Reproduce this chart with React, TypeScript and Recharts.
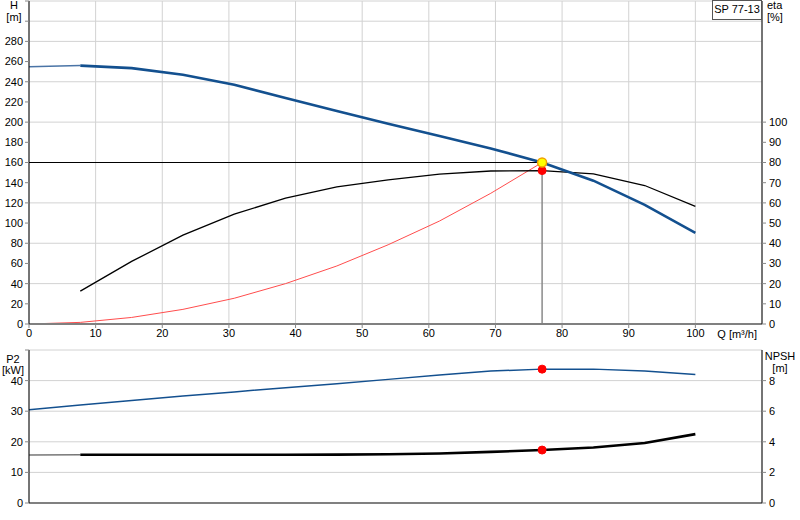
import React from 'react';
import { LineChart, Line, XAxis, YAxis, CartesianGrid, ReferenceDot, Label } from 'recharts';

// Flow points [m³/h]
const flowQ = [0, 7.7, 15.4, 23.1, 30.8, 38.5, 46.2, 53.9, 61.6, 69.3, 77, 84.7, 92.4, 100];
// Head H [m]
const headH = [254.8, 256, 253.5, 247, 237, 223.8, 211, 198.3, 186.2, 173.9, 160, 142, 118, 90.2];
// Efficiency eta [%] (starts at 7.7)
const effQ = [7.7, 15.4, 23.1, 30.8, 38.5, 46.2, 53.9, 61.6, 69.3, 77, 84.7, 92.4, 100];
const effEta = [16.3, 31, 44, 54.4, 62.3, 67.9, 71.4, 74.2, 75.8, 76, 74.4, 68.6, 58.3];
// System curve [m]
const sysQ = [0, 7.7, 15.4, 23.1, 30.8, 38.5, 46.2, 53.9, 61.6, 69.3, 77];
const sysH = [0, 1.6, 6.5, 14.5, 25.5, 40, 57.5, 78.5, 102, 129.5, 160];
// Power P2 [kW]
const powerP2 = [30.5, 32.0, 33.5, 35.0, 36.3, 37.7, 39.0, 40.4, 41.8, 43.1, 43.75, 43.75, 43.1, 42.0];
// NPSH [m]
const npshM = [3.14, 3.15, 3.15, 3.15, 3.15, 3.15, 3.16, 3.19, 3.24, 3.34, 3.46, 3.63, 3.92, 4.5];

// Duty point
const dutyQ = 77;
const dutyH = 160;
const dutyEta = 76;
const dutyP2 = 43.75;
const dutyNPSH = 3.46;

// Ticks
const qTicks = [0, 10, 20, 30, 40, 50, 60, 70, 80, 90, 100];
const hTicks = [0, 20, 40, 60, 80, 100, 120, 140, 160, 180, 200, 220, 240, 260, 280, 300, 320];
const etaTicks = [0, 10, 20, 30, 40, 50, 60, 70, 80, 90, 100];
const p2Ticks = [0, 10, 20, 30, 40, 50];
const npshTicks = [0, 2, 4, 6, 8];

const headData = flowQ.map((q, i) => ({ q, h: headH[i] }));
const headMain = headData.slice(1);
const headExt = headData.slice(0, 2);
const effData = effQ.map((q, i) => ({ q, eta: effEta[i] }));
const sysData = sysQ.map((q, i) => ({ q, h: sysH[i] }));
const dutyHLine = [{ q: 0, h: dutyH }, { q: dutyQ, h: dutyH }];
const dutyVLine = [{ q: dutyQ, h: dutyH }, { q: dutyQ, h: 0 }];
const p2Data = flowQ.map((q, i) => ({ q, p2: powerP2[i] }));
const npshData = flowQ.map((q, i) => ({ q, npsh: npshM[i] }));
const npshMain = npshData.slice(1);
const npshExt = npshData.slice(0, 2);

const FONT = '"Liberation Sans", Arial, sans-serif';
const GRID = '#d2d2d2';
const BLUE = '#13508f';
const tickStyle = { fontSize: 11, fill: '#000', fontFamily: FONT };

export default function App() {
  return (
    <div style={{ position: 'absolute', left: 0, top: 0, width: 800, height: 520, background: '#fff', fontFamily: FONT }}>
      <div style={{ position: 'absolute', left: 0, top: 0 }}>
        <LineChart width={800} height={345} margin={{ top: 1, right: 0, bottom: 0, left: 0 }}>
          <CartesianGrid yAxisId="h" stroke={GRID} strokeWidth={1} />
          <XAxis
            type="number"
            dataKey="q"
            domain={[0, 110]}
            ticks={qTicks}
            allowDataOverflow
            height={21}
            tick={tickStyle}
            tickSize={4}
            tickMargin={1}
            tickLine={{ stroke: '#888' }}
            axisLine={{ stroke: '#808080', strokeWidth: 2 }}
          >
            <Label
              content={() => (
                <text x={757} y={338} textAnchor="end" fontSize={11} fontFamily={FONT} fill="#000">
                  Q [m³/h]
                </text>
              )}
            />
          </XAxis>
          <YAxis
            yAxisId="h"
            orientation="left"
            domain={[0, 320]}
            ticks={hTicks}
            width={29}
            tick={tickStyle}
            tickFormatter={(v: number) => (v > 280 ? '' : String(v))}
            tickSize={4}
            tickMargin={2}
            tickLine={{ stroke: '#888' }}
            axisLine={{ stroke: '#000' }}
            allowDataOverflow
          >
            <Label
              content={() => (
                <g fontFamily={FONT} fontSize={11} fill="#000">
                  <text x={14} y={9} textAnchor="middle">H</text>
                  <text x={14} y={21} textAnchor="middle">[m]</text>
                </g>
              )}
            />
          </YAxis>
          <YAxis
            yAxisId="eta"
            orientation="right"
            domain={[0, 160]}
            ticks={etaTicks}
            width={38}
            tick={tickStyle}
            tickSize={4}
            tickMargin={3}
            tickLine={{ stroke: '#888' }}
            axisLine={{ stroke: '#000' }}
            allowDataOverflow
          >
            <Label
              content={() => (
                <g fontFamily={FONT} fontSize={11} fill="#000">
                  <text x={767} y={9} textAnchor="start">eta</text>
                  <text x={767} y={21} textAnchor="start">[%]</text>
                  <rect x={712.5} y={0.5} width={49} height={19} fill="#fff" stroke="#555" />
                  <text x={737} y={13} textAnchor="middle">SP 77-13</text>
                </g>
              )}
            />
          </YAxis>

          <Line yAxisId="h" data={sysData} dataKey="h" stroke="#ff4d4d" strokeWidth={1} dot={false} isAnimationActive={false} type="linear" />
          <Line yAxisId="h" data={dutyVLine} dataKey="h" stroke="#8a8a8a" strokeWidth={1.5} dot={false} isAnimationActive={false} type="linear" />
          <Line yAxisId="h" data={dutyHLine} dataKey="h" stroke="#000" strokeWidth={1} dot={false} isAnimationActive={false} type="linear" />
          <Line yAxisId="eta" data={effData} dataKey="eta" stroke="#000" strokeWidth={1.3} dot={false} isAnimationActive={false} type="linear" />
          <Line yAxisId="h" data={headExt} dataKey="h" stroke="#4a74a6" strokeWidth={1.5} dot={false} isAnimationActive={false} type="linear" />
          <Line yAxisId="h" data={headMain} dataKey="h" stroke={BLUE} strokeWidth={2.6} dot={false} isAnimationActive={false} type="linear" />
          <ReferenceDot yAxisId="eta" x={dutyQ} y={dutyEta} r={4} fill="#ff0000" stroke="#ff0000" />
          <ReferenceDot yAxisId="h" x={dutyQ} y={dutyH} r={4.5} fill="#ffff00" stroke="#f0a000" strokeWidth={1.5} />
        </LineChart>
      </div>

      <div style={{ position: 'absolute', left: 0, top: 345 }}>
        <LineChart width={800} height={175} margin={{ top: 5, right: 0, bottom: 0, left: 0 }}>
          <CartesianGrid yAxisId="p2" stroke={GRID} strokeWidth={1} />
          <XAxis
            type="number"
            dataKey="q"
            domain={[0, 110]}
            ticks={qTicks}
            allowDataOverflow
            height={17}
            tick={false}
            tickLine={false}
            axisLine={{ stroke: '#808080', strokeWidth: 2 }}
          />
          <YAxis
            yAxisId="p2"
            orientation="left"
            domain={[0, 50]}
            ticks={p2Ticks}
            width={29}
            tick={tickStyle}
            tickFormatter={(v: number) => (v > 40 ? '' : String(v))}
            tickSize={4}
            tickMargin={2}
            tickLine={{ stroke: '#888' }}
            axisLine={{ stroke: '#000' }}
            allowDataOverflow
          >
            <Label
              content={() => (
                <g fontFamily={FONT} fontSize={11} fill="#000">
                  <text x={13} y={18} textAnchor="middle">P2</text>
                  <text x={13} y={29} textAnchor="middle">[kW]</text>
                </g>
              )}
            />
          </YAxis>
          <YAxis
            yAxisId="npsh"
            orientation="right"
            domain={[0, 10]}
            ticks={npshTicks}
            width={38}
            tick={tickStyle}
            tickSize={4}
            tickMargin={3}
            tickLine={{ stroke: '#888' }}
            axisLine={{ stroke: '#000' }}
            allowDataOverflow
          >
            <Label
              content={() => (
                <g fontFamily={FONT} fontSize={11} fill="#000">
                  <text x={780} y={15} textAnchor="middle">NPSH</text>
                  <text x={780} y={27} textAnchor="middle">[m]</text>
                </g>
              )}
            />
          </YAxis>
          <Line yAxisId="p2" data={p2Data} dataKey="p2" stroke={BLUE} strokeWidth={1.5} dot={false} isAnimationActive={false} type="linear" />
          <Line yAxisId="npsh" data={npshExt} dataKey="npsh" stroke="#777" strokeWidth={1.5} dot={false} isAnimationActive={false} type="linear" />
          <Line yAxisId="npsh" data={npshMain} dataKey="npsh" stroke="#000" strokeWidth={2.6} dot={false} isAnimationActive={false} type="linear" />
          <ReferenceDot yAxisId="p2" x={dutyQ} y={dutyP2} r={4} fill="#ff0000" stroke="#ff0000" />
          <ReferenceDot yAxisId="npsh" x={dutyQ} y={dutyNPSH} r={4} fill="#ff0000" stroke="#ff0000" />
        </LineChart>
      </div>
    </div>
  );
}
